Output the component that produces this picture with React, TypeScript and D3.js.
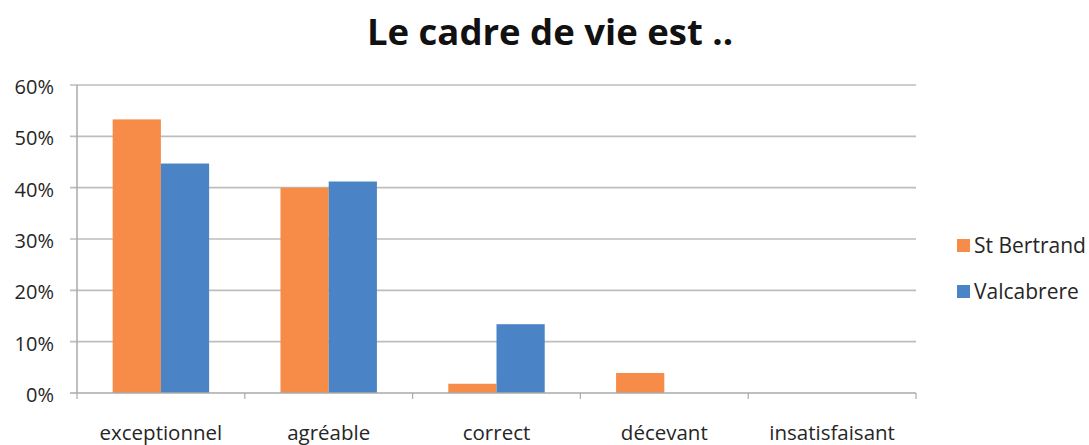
import React, { useEffect, useRef } from 'react'
import * as d3 from 'd3'

const categories = ['exceptionnel', 'agréable', 'correct', 'décevant', 'insatisfaisant']
const seriesNames = ['St Bertrand', 'Valcabrere']
const stBertrand = [0.533, 0.4, 0.018, 0.039, 0]
const valcabrere = [0.447, 0.412, 0.134, 0, 0]
const yTicks = [0, 0.1, 0.2, 0.3, 0.4, 0.5, 0.6]
const colors = ['#f68c47', '#4a84c6']

export default function App() {
    const svgRef = useRef<SVGSVGElement>(null)

    useEffect(() => {
        const width = 1089
        const height = 445
        const font = "'Open Sans', 'DejaVu Sans', sans-serif"
        const textColor = '#262626'

        const svg = d3.select(svgRef.current)
        svg.selectAll('*').remove()
        svg.attr('width', width).attr('height', height)

        const x0 = d3.scaleBand().domain(categories).range([77, 916]).padding(0)
        const x1 = d3
            .scaleBand()
            .domain(seriesNames)
            .range([0, x0.bandwidth()])
            .paddingInner(0)
            .paddingOuter(0.74)
        const y = d3.scaleLinear().domain([0, 0.6]).range([393, 85])

        // title
        svg.append('text')
            .attr('x', 550)
            .attr('y', 45)
            .attr('text-anchor', 'middle')
            .style('font-family', font)
            .style('font-weight', 700)
            .style('font-size', '36.5px')
            .style('fill', '#111')
            .text('Le cadre de vie est ..')

        // gridlines
        svg.append('g')
            .selectAll('line')
            .data(yTicks.slice(1))
            .enter()
            .append('line')
            .attr('x1', 70)
            .attr('x2', 916)
            .attr('y1', (d) => y(d))
            .attr('y2', (d) => y(d))
            .attr('stroke', '#bdbdbd')
            .attr('stroke-width', 1.6)

        // y labels
        svg.append('g')
            .selectAll('text')
            .data(yTicks)
            .enter()
            .append('text')
            .attr('x', 54)
            .attr('y', (d) => y(d) + 9)
            .attr('text-anchor', 'end')
            .style('font-family', font)
            .style('font-size', '20px')
            .style('fill', textColor)
            .text((d) => d3.format('.0%')(d))

        // bars
        const rows = categories.map((c, i) => ({ cat: c, vals: [stBertrand[i], valcabrere[i]] }))
        svg.append('g')
            .selectAll('g')
            .data(rows)
            .enter()
            .append('g')
            .attr('transform', (r) => `translate(${x0(r.cat)},0)`)
            .selectAll('rect')
            .data((r) => r.vals.map((v, j) => ({ name: seriesNames[j], v, j })))
            .enter()
            .append('rect')
            .attr('x', (d) => x1(d.name) as number)
            .attr('y', (d) => y(d.v))
            .attr('width', x1.bandwidth())
            .attr('height', (d) => y(0) - y(d.v))
            .attr('fill', (d) => colors[d.j])

        // axes
        svg.append('line')
            .attr('x1', 77).attr('x2', 77)
            .attr('y1', y(0.6)).attr('y2', y(0))
            .attr('stroke', '#aaa').attr('stroke-width', 1.5)
        svg.append('line')
            .attr('x1', 70).attr('x2', 916)
            .attr('y1', y(0)).attr('y2', y(0))
            .attr('stroke', '#aaa').attr('stroke-width', 1.6)

        const bounds = categories.map((c) => x0(c) as number).concat([916])
        svg.append('g')
            .selectAll('line')
            .data(bounds)
            .enter()
            .append('line')
            .attr('x1', (d) => d).attr('x2', (d) => d)
            .attr('y1', y(0)).attr('y2', y(0) + 6)
            .attr('stroke', '#aaa').attr('stroke-width', 1.2)

        // category labels
        svg.append('g')
            .selectAll('text')
            .data(categories)
            .enter()
            .append('text')
            .attr('x', (c) => (x0(c) as number) + x0.bandwidth() / 2)
            .attr('y', 440)
            .attr('text-anchor', 'middle')
            .style('font-family', font)
            .style('font-size', '20.5px')
            .style('fill', textColor)
            .text((c) => c)

        // legend
        const legend = svg.append('g')
            .selectAll('g')
            .data(seriesNames)
            .enter()
            .append('g')
            .attr('transform', (d, i) => `translate(957, ${239 + i * 46})`)
        legend.append('rect')
            .attr('width', 13)
            .attr('height', 13)
            .attr('fill', (d, i) => colors[i])
        legend.append('text')
            .attr('x', 17)
            .attr('y', 14)
            .style('font-family', font)
            .style('font-size', '21px')
            .style('fill', textColor)
            .text((d) => d)
    }, [])

    return (
        <div style={{ position: 'absolute', left: 0, top: 0 }}>
            <svg ref={svgRef} style={{ display: 'block' }} />
        </div>
    )
}
